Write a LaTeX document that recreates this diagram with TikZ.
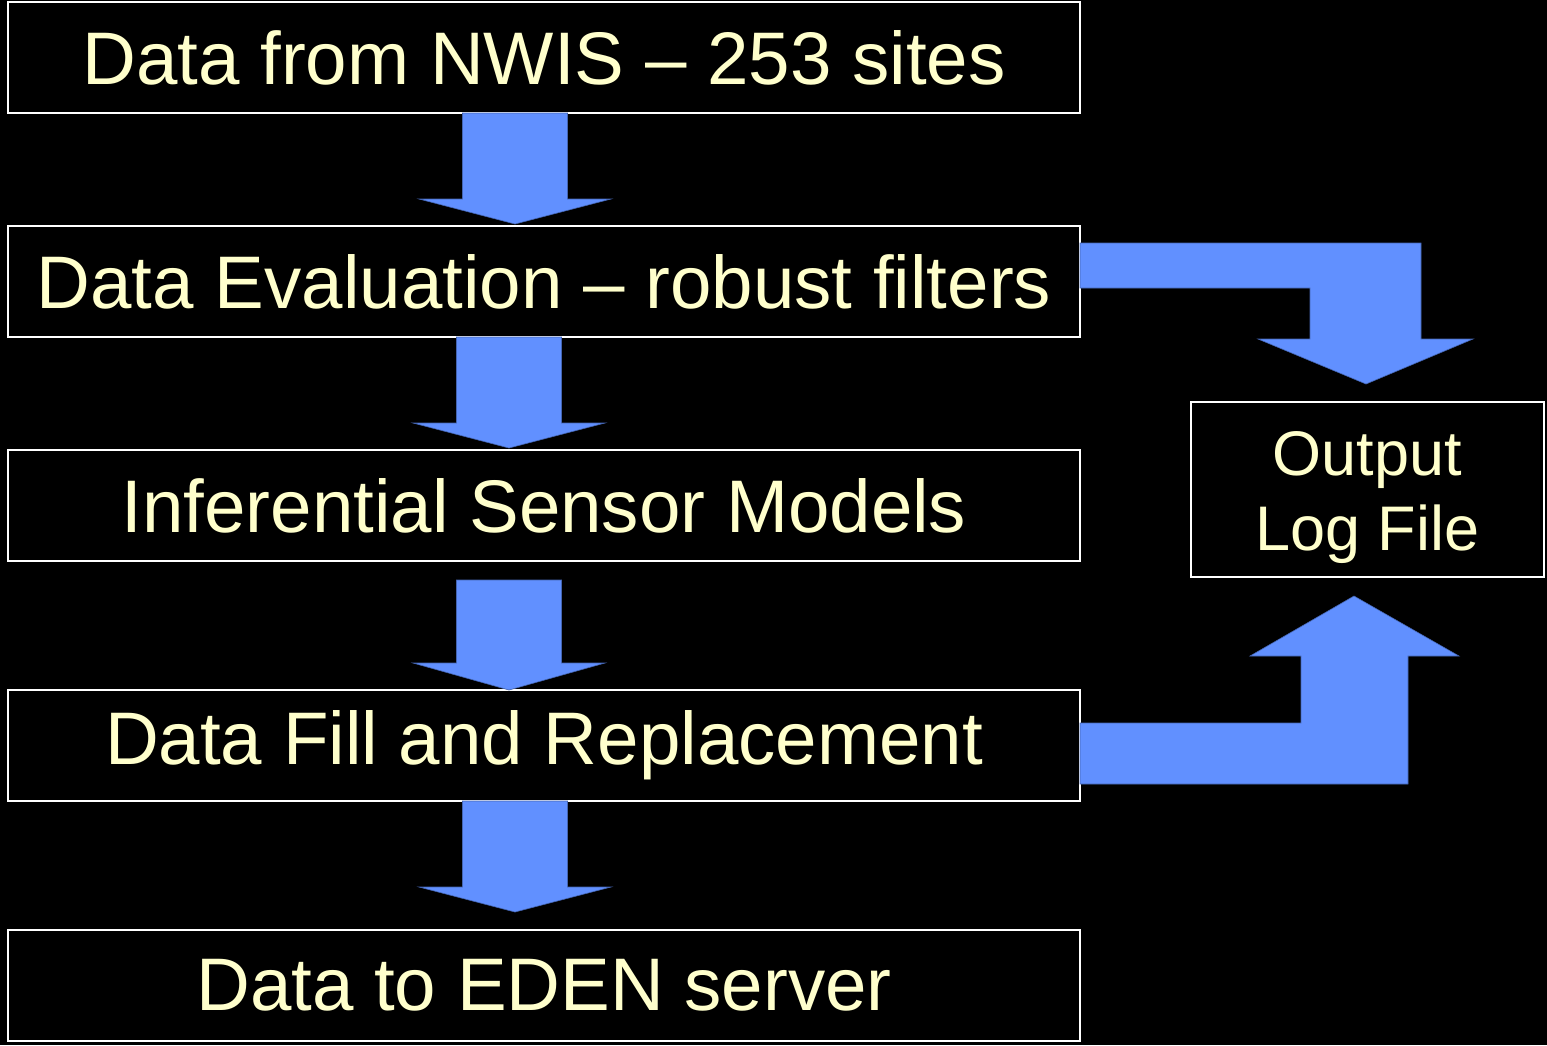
\documentclass[tikz,border=0pt]{standalone}
\usepackage{fontspec}
\setmainfont{Liberation Sans}
\usetikzlibrary{calc}
\definecolor{txt}{HTML}{FFFFCC}
\definecolor{arr}{HTML}{6190FF}
\tikzset{
  box/.style={draw=white, line width=2pt, fill=black, text=txt, inner sep=0pt, outer sep=0pt,
              minimum width=1072pt, minimum height=111pt, font=\fontsize{74.5}{80}\selectfont},
  outbox/.style={draw=white, line width=2pt, fill=black, text=txt, inner sep=0pt, outer sep=0pt,
              minimum width=353pt, minimum height=175pt, font=\fontsize{63}{75}\selectfont},
  blockarrow/.style={fill=arr, draw=arr!70!black, line width=0.6pt, line join=miter}
}
\newcommand\blockdn[4]{% from node, to node, centre x, gap above target
  \draw[blockarrow] ({#3-52.5},0 |- #1.south) -- ({#3+52.5},0 |- #1.south)
    -- ($({#3+52.5},0 |- #2.north)+(0,{-25-#4})$) -- ($({#3+96},0 |- #2.north)+(0,{-25-#4})$)
    -- ($({#3},0 |- #2.north)+(0,{-#4})$) -- ($({#3-96},0 |- #2.north)+(0,{-25-#4})$)
    -- ($({#3-52.5},0 |- #2.north)+(0,{-25-#4})$) -- cycle;}
\begin{document}
\begin{tikzpicture}[x=1pt,y=-1pt]
\fill[black] (0,0) rectangle (1547,1045);
\useasboundingbox (0,0) rectangle (1547,1045);
\node[box] (b1) at (544,57.5) {Data from NWIS – 253 sites};
\node[box] (b2) at (544,281.5) {Data Evaluation – robust filters};
\node[box] (b3) at (544,505.5) {Inferential Sensor Models};
\node[box] (b4) at (544,745.5) {Data Fill and Replacement};
\node[box] (b5) at (544,985.5) {Data to EDEN server};
\node[outbox] (out) at (1367.5,489.5) {\setlength\tabcolsep{0pt}\raisebox{-8pt}[\height][\depth]{\begin{tabular}{c}Output\\Log File\end{tabular}}};
% down arrows
\blockdn{b1}{b2}{515}{2}
\blockdn{b2}{b3}{509}{2}
\draw[blockarrow] (456.5,580) -- (561.5,580) -- (561.5,663) -- (605,663)
  -- (509,0 |- b4.north) -- (413,663) -- (456.5,663) -- cycle;
\blockdn{b4}{b5}{515}{18}
% side arrows
\draw[blockarrow] (b2.east |- 0,243) -- (1421,243) -- (1421,339) -- (1473,339)
  -- (1366,384) -- (1258,339) -- (1310,339) -- (1310,288) -- (b2.east |- 0,288) -- cycle;
\draw[blockarrow] (b4.east |- 0,784) -- (1408,784) -- (1408,656) -- (1459,656)
  -- (1354,596) -- (1250,656) -- (1301,656) -- (1301,723) -- (b4.east |- 0,723) -- cycle;
\end{tikzpicture}
\end{document}
